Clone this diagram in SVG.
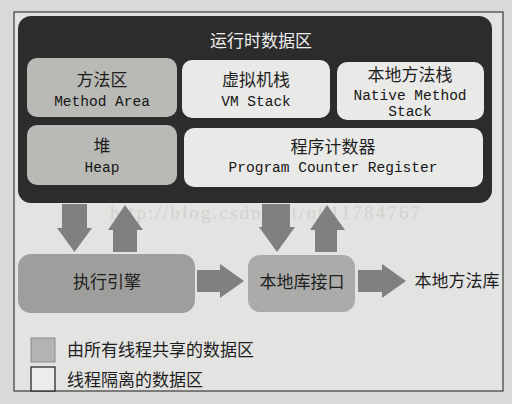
<svg xmlns="http://www.w3.org/2000/svg" width="512" height="404" viewBox="0 0 512 404">
<style>
.cn{font-family:"Noto Sans CJK SC","Noto Sans",sans-serif;font-size:17px;fill:#1e1e1e;text-anchor:middle}
.en{font-family:"Liberation Mono","DejaVu Sans Mono",monospace;font-size:14.5px;fill:#151515;text-anchor:middle}
.gray{fill:#b9b9b5}
.white{fill:#e9e9e7}
.arrow{fill:#808080}
</style>
<rect x="0" y="0" width="512" height="404" fill="#d9d9d7"/>
<rect x="14" y="12" width="489" height="379" fill="#e3e3e1" stroke="#3a3a3a" stroke-width="1.2"/>
<g id="runtime-data-area">
<rect x="18" y="16" width="474" height="187" rx="13" fill="#2c2c2c"/>
<text class="cn" x="261" y="47" style="fill:#eeeeee">运行时数据区</text>
</g>
<g id="method-area">
<rect class="gray" x="27" y="58" width="150" height="59" rx="10"/>
<text class="cn" x="102" y="86">方法区</text>
<text class="en" x="102" y="106">Method Area</text>
</g>
<g id="vm-stack">
<rect class="white" x="182" y="60" width="148" height="58" rx="10"/>
<text class="cn" x="256" y="86">虚拟机栈</text>
<text class="en" x="256" y="106">VM Stack</text>
</g>
<g id="native-method-stack">
<rect class="white" x="337" y="62" width="147" height="58" rx="10"/>
<text class="cn" x="410" y="81">本地方法栈</text>
<text class="en" x="410" y="100">Native Method</text>
<text class="en" x="410" y="116">Stack</text>
</g>
<g id="heap">
<rect class="gray" x="27" y="125" width="150" height="60" rx="10"/>
<text class="cn" x="102" y="152">堆</text>
<text class="en" x="102" y="172">Heap</text>
</g>
<g id="pc-register">
<rect class="white" x="184" y="128" width="299" height="59" rx="10"/>
<text class="cn" x="333" y="153">程序计数器</text>
<text class="en" x="333" y="172">Program Counter Register</text>
</g>
<text x="265" y="219" font-family="Liberation Serif,serif" font-size="19" fill="#d2d2d0" text-anchor="middle" textLength="310">http://blog.csdn.net/u011784767</text>
<g id="connectors">
<polygon class="arrow" points="62,204 87,204 87,228 92,228 74.5,252 57,228 62,228"/>
<polygon class="arrow" points="125,205 143,230 137,230 137,252 113,252 113,230 108,230"/>
<polygon class="arrow" points="262,204 290,204 290,227 295,227 277,252 259,227 262,227"/>
<polygon class="arrow" points="327,205 345,230 337,230 337,252 315,252 315,230 310,230"/>
<polygon class="arrow" points="197,270 220,270 220,264 244,281 220,298 220,292 197,292"/>
<polygon class="arrow" points="358,270 382,270 382,264 406,281 382,298 382,292 358,292"/>
</g>
<g id="execution-engine">
<rect x="18" y="254" width="177" height="59" rx="13" fill="#9e9e9c"/>
<text class="cn" x="107" y="288">执行引擎</text>
</g>
<g id="native-interface">
<rect x="248" y="255" width="107" height="57" rx="12" fill="#ababa9"/>
<text class="cn" x="302" y="288">本地库接口</text>
</g>
<g id="native-library">
<text class="cn" x="457" y="287">本地方法库</text>
</g>
<g id="legend">
<rect x="31" y="338" width="24" height="24" fill="#b3b3b1" stroke="#8a8a8a" stroke-width="1"/>
<text class="cn" x="67" y="356" style="text-anchor:start">由所有线程共享的数据区</text>
<rect x="31" y="367" width="24" height="24" fill="#ececea" stroke="#2a2a2a" stroke-width="1.3"/>
<text class="cn" x="67" y="386" style="text-anchor:start">线程隔离的数据区</text>
</g>
</svg>
